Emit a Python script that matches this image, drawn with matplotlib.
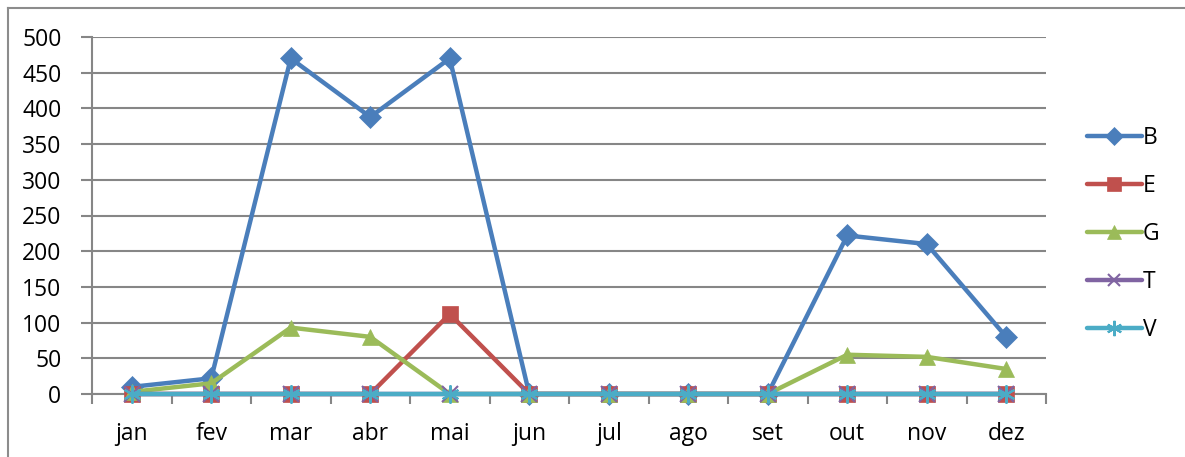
import matplotlib
matplotlib.use("Agg")
import matplotlib.pyplot as plt
from matplotlib.lines import Line2D
import numpy as np

months = ["jan", "fev", "mar", "abr", "mai", "jun", "jul", "ago", "set", "out", "nov", "dez"]
B = [10, 22, 470, 388, 470, 0, 0, 0, 0, 222, 210, 80]
E = [0, 0, 0, 0, 112, 0, 0, 0, 0, 0, 0, 0]
G = [3, 15, 93, 80, 0, 0, 0, 0, 0, 55, 52, 35]
T = [0, 0, 0, 0, 0, 0, 0, 0, 0, 0, 0, 0]
V = [0, 0, 0, 0, 0, 0, 0, 0, 0, 0, 0, 0]
yticks = [0, 50, 100, 150, 200, 250, 300, 350, 400, 450, 500]

plt.rcParams['font.family'] = ['Open Sans', 'DejaVu Sans']

fig = plt.figure(figsize=(11.85, 4.57), dpi=100)
ax = fig.add_axes([92/1185, 1-394/457, (1046-92)/1185, (394-37)/457])

x = np.arange(len(months))
grey = "#868686"

series = [
    ("B", B, "#4A7EBB", "D", 11),
    ("E", E, "#C0504D", "s", 12),
    ("G", G, "#9BBB59", "^", 12),
    ("T", T, "#8064A2", "x", 11),
    ("V", V, "#4BACC6", (6, 2, 0), 13),
]
handles = []
for i, (name, vals, col, mk, ms) in enumerate(series):
    if mk in ("x",) or isinstance(mk, tuple):
        ln, = ax.plot(x, vals, color=col, lw=3.2, marker=mk, ms=ms, mew=1.5,
                      mec=col, zorder=3 + i, solid_capstyle='round', clip_on=False)
    else:
        ln, = ax.plot(x, vals, color=col, lw=3.2, marker=mk, ms=ms, mew=0.5,
                      mec=col, mfc=col, zorder=3 + i, solid_capstyle='round', clip_on=False)
    handles.append(ln)

ax.set_xlim(-0.5, len(months) - 0.5)
ax.set_ylim(0, 500)
ax.set_yticks(yticks)
ax.set_yticklabels([str(v) for v in yticks], fontsize=16.5)
ax.set_xticks(x)
ax.set_xticklabels(months, fontsize=16.5)
ax.set_xticks(np.arange(-0.5, len(months), 1.0), minor=True)
ax.tick_params(axis='x', which='major', length=0, pad=20)
ax.tick_params(axis='x', which='minor', length=7, color=grey, width=1.5, direction='out')
ax.tick_params(axis='y', length=8, color=grey, width=1.5, direction='out', pad=14)

ax.grid(axis='y', color=grey, lw=1.5, zorder=0)
ax.set_axisbelow(True)
for s in ['top', 'right']:
    ax.spines[s].set_visible(False)
for s in ['left', 'bottom']:
    ax.spines[s].set_color(grey)
    ax.spines[s].set_linewidth(1.5)

leg = fig.legend(handles=handles, labels=[s[0] for s in series],
                 loc='center left', bbox_to_anchor=(1066/1185, 1-234/457),
                 frameon=False, fontsize=16.5, handlelength=2.4, labelspacing=1.05,
                 handletextpad=0.05, markerscale=0.85)

# outer chart border (top and left visible)
fig.add_artist(Line2D([8/1185, 1.0], [1-8/457, 1-8/457], color="#8c8c8c", lw=1.5,
                      transform=fig.transFigure))
fig.add_artist(Line2D([8/1185, 8/1185], [0.0, 1-8/457], color="#8c8c8c", lw=1.5,
                      transform=fig.transFigure))

fig.savefig("out.png", dpi=100)
